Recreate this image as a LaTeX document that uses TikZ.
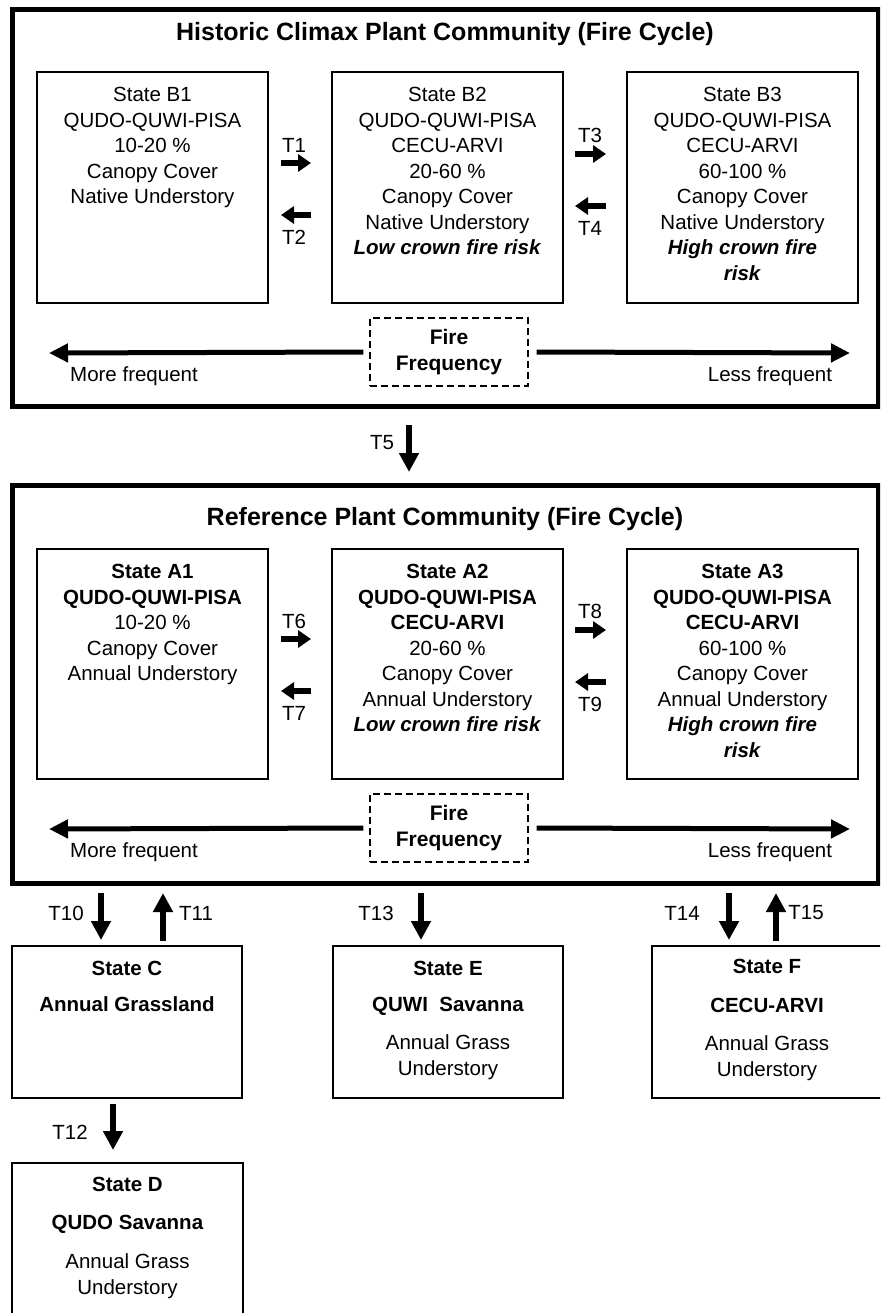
\documentclass[tikz,border=0pt]{standalone}
\usepackage{fontspec}
\setmainfont{Liberation Sans}
\usetikzlibrary{arrows.meta}
\begin{document}
\begin{tikzpicture}[x=1pt,y=-1pt,
  frame/.style={draw,line width=5pt,inner sep=0pt},
  sbox/.style={draw,line width=1.3pt,inner sep=0pt,minimum width=231pt},
  ff/.style={draw,dash pattern=on 7pt off 4pt,line width=1.3pt,minimum width=158pt,minimum height=68pt,inner sep=0pt,align=center,font=\fontsize{21}{26}\selectfont\bfseries},
  ttl/.style={inner sep=0pt,font=\fontsize{25}{30}\selectfont\bfseries},
  txt/.style={inner sep=0pt,align=center,font=\fontsize{20.5}{25.5}\selectfont},
  lbl/.style={inner sep=0pt,font=\fontsize{20.5}{24}\selectfont},
  harr/.style={line width=6.5pt,-{Triangle[length=13pt,width=17pt]}},
  varr/.style={line width=6pt,-{Triangle[length=19pt,width=19pt]}},
  farr/.style={line width=5pt,-{Triangle[length=19pt,width=18pt]}},
]
\useasboundingbox (0,0) rectangle (880,1313);
\fill[white] (0,0) rectangle (880,1313);
\clip (0,0) rectangle (880,1313);

% ---------- Historic frame ----------
\node[frame,minimum width=866pt,minimum height=396pt] (hist) at (445,208) {};
\node[ttl] (histtitle) at (445,34) {Historic Climax Plant Community (Fire Cycle)};

\node[sbox,minimum height=231pt] (b1) at (152.5,187.5) {};
\node[sbox,minimum height=231pt] (b2) at (447.5,187.5) {};
\node[sbox,minimum height=231pt] (b3) at (742.5,187.5) {};

\node[txt,anchor=north] (b1t) at ([yshift=-16pt]b1.north) {State B1\\QUDO-QUWI-PISA\\10-20 \%\\Canopy Cover\\Native Understory};
\node[txt,anchor=north] (b2t) at ([yshift=-16pt]b2.north) {State B2\\QUDO-QUWI-PISA\\CECU-ARVI\\20-60 \%\\Canopy Cover\\Native Understory\\\textbf{\textit{Low crown fire risk}}};
\node[txt,anchor=north] (b3t) at ([yshift=-16pt]b3.north) {State B3\\QUDO-QUWI-PISA\\CECU-ARVI\\60-100 \%\\Canopy Cover\\Native Understory\\\textbf{\textit{High crown fire}}\\\textbf{\textit{risk}}};

\coordinate (t1a) at (281,163); \coordinate (t1b) at (311,163);
\coordinate (t2a) at (311,215); \coordinate (t2b) at (281,215);
\coordinate (t3a) at (575,154); \coordinate (t3b) at (606,154);
\coordinate (t4a) at (606,206); \coordinate (t4b) at (575,206);
\draw[harr] (t1a) -- (t1b);
\draw[harr] (t2a) -- (t2b);
\draw[harr] (t3a) -- (t3b);
\draw[harr] (t4a) -- (t4b);
\node[lbl] (t1) at (294,145) {T1};
\node[lbl] (t2) at (294,237) {T2};
\node[lbl] (t3) at (590,135) {T3};
\node[lbl] (t4) at (590,228) {T4};

\node[ff] (ff1) at (449,352) {Fire\\Frequency};
\coordinate (more1) at (49,353); \coordinate (less1) at (850,353);
\draw[farr] ([xshift=-6pt]ff1.west) -- (more1);
\draw[farr] ([xshift=8pt]ff1.east) -- (less1);
\node[lbl] (mf1) at (134,376) {More frequent};
\node[lbl] (lf1) at (770,376) {Less frequent};

% ---------- T5 ----------
\coordinate (t5a) at (409,425); \coordinate (t5b) at (409,472);
\draw[varr] (t5a) -- (t5b);
\node[lbl] (t5) at (382,443) {T5};

% ---------- Reference frame ----------
\node[frame,minimum width=866pt,minimum height=398pt] (ref) at (445,684) {};
\node[ttl] (reftitle) at (445,519) {Reference Plant Community (Fire Cycle)};

\node[sbox,minimum height=230pt] (a1) at (152.5,664) {};
\node[sbox,minimum height=230pt] (a2) at (447.5,664) {};
\node[sbox,minimum height=230pt] (a3) at (742.5,664) {};

\node[txt,anchor=north] (a1t) at ([yshift=-16pt]a1.north) {\textbf{State A1}\\\textbf{QUDO-QUWI-PISA}\\10-20 \%\\Canopy Cover\\Annual Understory};
\node[txt,anchor=north] (a2t) at ([yshift=-16pt]a2.north) {\textbf{State A2}\\\textbf{QUDO-QUWI-PISA}\\\textbf{CECU-ARVI}\\20-60 \%\\Canopy Cover\\Annual Understory\\\textbf{\textit{Low crown fire risk}}};
\node[txt,anchor=north] (a3t) at ([yshift=-16pt]a3.north) {\textbf{State A3}\\\textbf{QUDO-QUWI-PISA}\\\textbf{CECU-ARVI}\\60-100 \%\\Canopy Cover\\Annual Understory\\\textbf{\textit{High crown fire}}\\\textbf{\textit{risk}}};

\coordinate (t6a) at (281,639); \coordinate (t6b) at (311,639);
\coordinate (t7a) at (311,691); \coordinate (t7b) at (281,691);
\coordinate (t8a) at (575,630); \coordinate (t8b) at (606,630);
\coordinate (t9a) at (606,682); \coordinate (t9b) at (575,682);
\draw[harr] (t6a) -- (t6b);
\draw[harr] (t7a) -- (t7b);
\draw[harr] (t8a) -- (t8b);
\draw[harr] (t9a) -- (t9b);
\node[lbl] (t6) at (294,621) {T6};
\node[lbl] (t7) at (294,713) {T7};
\node[lbl] (t8) at (590,611) {T8};
\node[lbl] (t9) at (590,704) {T9};

\node[ff] (ff2) at (449,828) {Fire\\Frequency};
\coordinate (more2) at (49,829); \coordinate (less2) at (850,829);
\draw[farr] ([xshift=-6pt]ff2.west) -- (more2);
\draw[farr] ([xshift=8pt]ff2.east) -- (less2);
\node[lbl] (mf2) at (134,852) {More frequent};
\node[lbl] (lf2) at (770,852) {Less frequent};

% ---------- Bottom states ----------
\node[sbox,minimum width=230pt,minimum height=152pt] (sc) at (127,1022) {};
\node[sbox,minimum width=230pt,minimum height=152pt] (se) at (448,1022) {};
\node[sbox,minimum width=230pt,minimum height=152pt] (sf) at (767,1022) {};
\node[sbox,minimum height=160pt] (sd) at (127.5,1243) {};

\node[txt,anchor=north] (sct) at ([yshift=-16pt]sc.north) {\textbf{State C}\\[10.5pt]\textbf{Annual Grassland}};
\node[txt,anchor=north] (set) at ([yshift=-16pt]se.north) {\textbf{State E}\\[10.5pt]\textbf{QUWI\ \ Savanna}\\[12.5pt]Annual Grass\\Understory};
\node[txt,anchor=north] (sft) at ([yshift=-14pt]sf.north) {\textbf{State F}\\[13.5pt]\textbf{CECU-ARVI}\\[12.5pt]Annual Grass\\Understory};
\node[txt,anchor=north] (sdt) at ([yshift=-15pt]sd.north) {\textbf{State D}\\[12.5pt]\textbf{QUDO Savanna}\\[13.5pt]Annual Grass\\Understory};

\coordinate (t10a) at (101,893); \coordinate (t10b) at (101,940);
\coordinate (t11a) at (163,941); \coordinate (t11b) at (163,893);
\coordinate (t13a) at (421,893); \coordinate (t13b) at (421,940);
\coordinate (t14a) at (729,893); \coordinate (t14b) at (729,940);
\coordinate (t15a) at (776,941); \coordinate (t15b) at (776,893);
\coordinate (t12a) at (113,1104); \coordinate (t12b) at (113,1150);
\draw[varr] (t10a) -- (t10b);
\draw[varr] (t11a) -- (t11b);
\draw[varr] (t13a) -- (t13b);
\draw[varr] (t14a) -- (t14b);
\draw[varr] (t15a) -- (t15b);
\draw[varr] (t12a) -- (t12b);
\node[lbl] (t10) at (66,913) {T10};
\node[lbl] (t11) at (196,913) {T11};
\node[lbl] (t13) at (376,913) {T13};
\node[lbl] (t14) at (682,913) {T14};
\node[lbl] (t15) at (806,913) {T15};
\node[lbl] (t12) at (70,1132) {T12};
\end{tikzpicture}
\end{document}
